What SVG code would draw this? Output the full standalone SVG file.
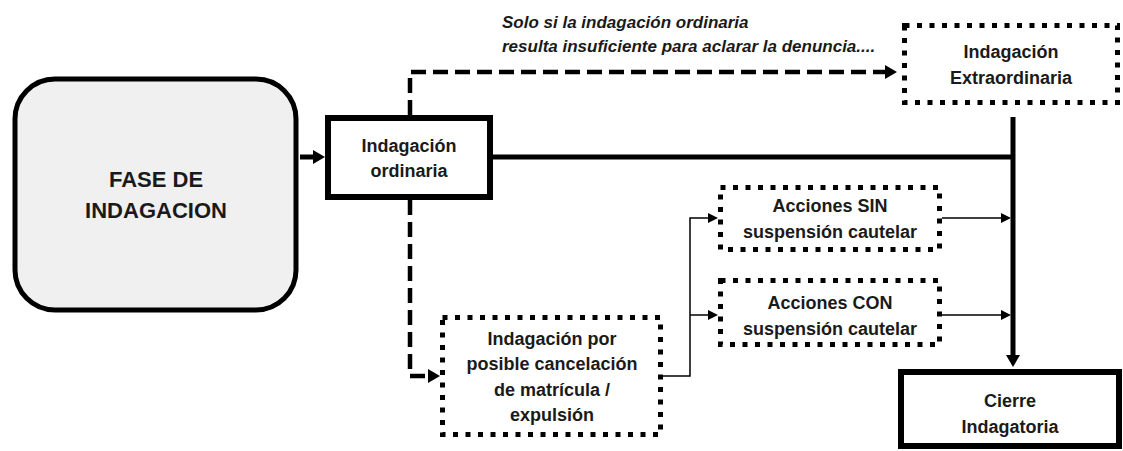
<svg xmlns="http://www.w3.org/2000/svg" width="1123" height="451" viewBox="0 0 1123 451">
  <style>
    .t { font-family: "Liberation Sans", Arial, sans-serif; font-weight: bold; fill: #1a1a1a; text-anchor: middle; }
    .n18 { font-size: 18px; }
    .big { font-size: 22px; }
    .it { font-family: "Liberation Sans", Arial, sans-serif; font-weight: bold; font-style: italic; font-size: 17px; fill: #1a1a1a; }
    .solid { fill: #ffffff; stroke: #000; stroke-width: 6; }
    .dotted { fill: #ffffff; stroke: #000; stroke-width: 5; stroke-dasharray: 5 7.5; }
    .thick { fill: none; stroke: #000; stroke-width: 5; }
    .dash { fill: none; stroke: #000; stroke-width: 4.5; stroke-dasharray: 15 7; }
    .thin { fill: none; stroke: #000; stroke-width: 1.5; }
  </style>
  <defs>
    <marker id="ah" markerUnits="userSpaceOnUse" markerWidth="13" markerHeight="14" refX="0" refY="7" orient="auto">
      <path d="M0,0 L12,7 L0,14 z" fill="#000"/>
    </marker>
    <marker id="as" markerUnits="userSpaceOnUse" markerWidth="11" markerHeight="10" refX="0" refY="5" orient="auto">
      <path d="M0,0 L10,5 L0,10 z" fill="#000"/>
    </marker>
  </defs>

  <rect width="1123" height="451" fill="#ffffff"/>

  <g id="connectors">
    <path class="thick" d="M300,157 H313" marker-end="url(#ah)"/>
    <path class="dash" d="M410,115 V72 H885" marker-end="url(#ah)"/>
    <path class="dash" d="M410,200 V376 H428" marker-end="url(#ah)"/>
    <path class="thick" d="M493,157 H1013"/>
    <path class="thick" d="M1013,117 V355" marker-end="url(#ah)"/>
    <path class="thin" d="M663,376 H690 V218 H708" marker-end="url(#as)"/>
    <path class="thin" d="M690,315 H708" marker-end="url(#as)"/>
    <path class="thin" d="M942,218 H1001" marker-end="url(#as)"/>
    <path class="thin" d="M942,315 H1001" marker-end="url(#as)"/>
  </g>

  <g id="note">
    <text class="it" x="502" y="28">Solo si la indagación ordinaria</text>
    <text class="it" x="502" y="52">resulta insuficiente para aclarar la denuncia....</text>
  </g>

  <g id="fase">
    <rect x="15" y="79" width="281" height="231" rx="40" ry="40" fill="#f0f0f0" stroke="#000" stroke-width="5"/>
    <text class="t big" x="156" y="187">FASE DE</text>
    <text class="t big" x="156" y="218">INDAGACION</text>
  </g>

  <g id="ordinaria">
    <rect class="solid" x="328" y="118" width="162" height="79"/>
    <text class="t n18" x="409" y="152">Indagación</text>
    <text class="t n18" x="409" y="177">ordinaria</text>
  </g>

  <g id="extraordinaria">
    <rect class="dotted" x="904.5" y="25.5" width="213" height="77"/>
    <text class="t n18" x="1011" y="58">Indagación</text>
    <text class="t n18" x="1011" y="84">Extraordinaria</text>
  </g>

  <g id="sin">
    <rect class="dotted" x="720.5" y="187.5" width="219" height="62"/>
    <text class="t n18" x="830" y="212">Acciones SIN</text>
    <text class="t n18" x="830" y="238">suspensión cautelar</text>
  </g>

  <g id="con">
    <rect class="dotted" x="720.5" y="280.5" width="219" height="64"/>
    <text class="t n18" x="830" y="309">Acciones CON</text>
    <text class="t n18" x="830" y="335">suspensión cautelar</text>
  </g>

  <g id="cancelacion">
    <rect class="dotted" x="442.5" y="317.5" width="218" height="117"/>
    <text class="t n18" x="552" y="345">Indagación por</text>
    <text class="t n18" x="552" y="370">posible cancelación</text>
    <text class="t n18" x="552" y="396">de matrícula /</text>
    <text class="t n18" x="552" y="421">expulsión</text>
  </g>

  <g id="cierre">
    <rect class="solid" x="901" y="372" width="218" height="74"/>
    <text class="t n18" x="1010" y="407">Cierre</text>
    <text class="t n18" x="1010" y="433">Indagatoria</text>
  </g>
</svg>
